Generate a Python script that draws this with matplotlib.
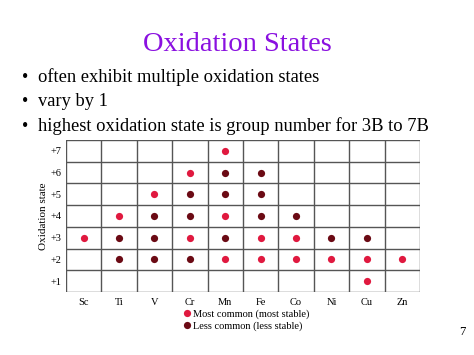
import matplotlib
matplotlib.use("Agg")
import matplotlib.pyplot as plt
from matplotlib.lines import Line2D

plt.rcParams['font.family'] = ['Liberation Serif', 'DejaVu Serif']

# elements (columns) and oxidation states (rows)
elements = ["Sc", "Ti", "V", "Cr", "Mn", "Fe", "Co", "Ni", "Cu", "Zn"]
states = [1, 2, 3, 4, 5, 6, 7]
state_labels = ["+1", "+2", "+3", "+4", "+5", "+6", "+7"]

# most common (most stable) states per element
most_common = {
    "Sc": [3],
    "Ti": [4],
    "V": [5],
    "Cr": [6, 3],
    "Mn": [7, 4, 2],
    "Fe": [3, 2],
    "Co": [3, 2],
    "Ni": [2],
    "Cu": [2, 1],
    "Zn": [2],
}
# less common (less stable) states per element
less_common = {
    "Sc": [],
    "Ti": [3, 2],
    "V": [4, 3, 2],
    "Cr": [5, 4, 2],
    "Mn": [6, 5, 3],
    "Fe": [6, 5, 4],
    "Co": [4],
    "Ni": [3],
    "Cu": [3],
    "Zn": [],
}

bullets = [
    "often exhibit multiple oxidation states",
    "vary by 1",
    "highest oxidation state is group number for 3B to 7B",
]

col_most = "#e0193f"
col_less = "#6b0a14"
col_grid = "#555555"

fig = plt.figure(figsize=(4.74, 3.55), dpi=100)

# titre et puces
fig.text(0.5, 0.876, "Oxidation States", ha="center", va="center",
         fontsize=20.5, color="#8a10e0")
y_lines = [0.782, 0.714, 0.644]
for txt, y in zip(bullets, y_lines):
    fig.text(0.053, y, "\u2022", ha="center", va="center", fontsize=13)
    fig.text(0.080, y, txt, ha="left", va="center", fontsize=13.3)
fig.text(0.975, 0.066, "7", ha="center", va="center", fontsize=9)

ax = fig.add_axes([0.1392, 0.1775, 0.7468, 0.4282])
ax.set_xlim(0, len(elements))
ax.set_ylim(0, len(states))

for i in range(len(elements) + 1):
    ax.axvline(i, color=col_grid, lw=1.0)
for j in range(len(states) + 1):
    ax.axhline(j, color=col_grid, lw=1.0)

for i, el in enumerate(elements):
    for s in most_common[el]:
        ax.plot(i + 0.5, s - 0.5, "o", color=col_most, ms=5.2, mec="none")
    for s in less_common[el]:
        ax.plot(i + 0.5, s - 0.5, "o", color=col_less, ms=5.2, mec="none")

ax.set_xticks([i + 0.5 for i in range(len(elements))])
ax.set_xticklabels(elements, fontsize=7.5)
ax.set_yticks([s - 0.5 for s in states])
ax.set_yticklabels(state_labels, fontsize=7.5)
ax.tick_params(axis="x", length=0, pad=4)
ax.tick_params(axis="y", length=0, pad=3)
for sp in ax.spines.values():
    sp.set_visible(False)
ax.set_ylabel("Oxidation state", fontsize=8, labelpad=2)

handles = [
    Line2D([], [], marker="o", ls="none", color=col_most, ms=5.2, mec="none"),
    Line2D([], [], marker="o", ls="none", color=col_less, ms=5.2, mec="none"),
]
fig.legend(handles, ["Most common (most stable)", "Less common (less stable)"],
           loc="upper left", bbox_to_anchor=(0.388, 0.128), frameon=False,
           fontsize=7.5, handlelength=0.6, handletextpad=0.3,
           labelspacing=0.2, borderpad=0, borderaxespad=0)

fig.savefig("out.png", dpi=100)
